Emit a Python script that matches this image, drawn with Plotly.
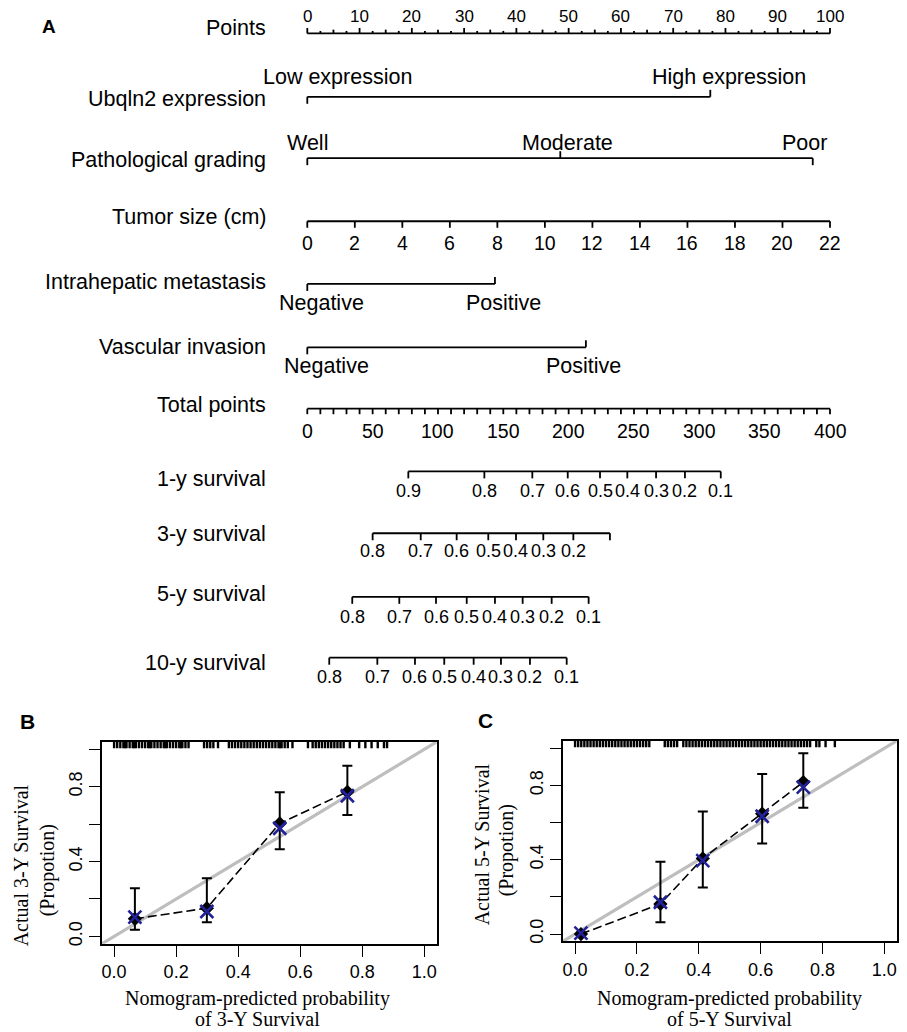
import plotly.graph_objects as go

# ================= Nomogram values =================
points_ticks = [0, 10, 20, 30, 40, 50, 60, 70, 80, 90, 100]
ubqln2_levels = ["Low expression", "High expression"]
ubqln2_pts = [0.0, 77.1]
grade_levels = ["Well", "Moderate", "Poor"]
grade_pts = [0.0, 48.4, 96.7]
tumor_cm = [0, 2, 4, 6, 8, 10, 12, 14, 16, 18, 20, 22]
tumor_cm_at_100pts = 22
im_levels = ["Negative", "Positive"]
im_pts = [0.0, 35.9]
vi_levels = ["Negative", "Positive"]
vi_pts = [0.0, 53.3]
total_ticks = [0, 50, 100, 150, 200, 250, 300, 350, 400]
total_at_100pts = 400
surv1_lab = ["0.9", "0.8", "0.7", "0.6", "0.5", "0.4", "0.3", "0.2", "0.1"]
surv1_tot = [77.3, 135.5, 172.2, 199.3, 224.0, 244.9, 266.9, 289.0, 316.4]
surv3_lab = ["0.8", "0.7", "0.6", "0.5", "0.4", "0.3", "0.2", ""]
surv3_tot = [50.0, 86.8, 114.3, 138.5, 159.7, 180.6, 203.6, 231.6]
surv5_lab = ["0.8", "0.7", "0.6", "0.5", "0.4", "0.3", "0.2", "0.1"]
surv5_tot = [34.4, 70.4, 98.5, 122.0, 143.6, 164.8, 187.0, 215.3]
surv10_lab = ["0.8", "0.7", "0.6", "0.5", "0.4", "0.3", "0.2", "0.1"]
surv10_tot = [16.8, 53.6, 82.4, 104.8, 127.3, 148.2, 170.4, 198.5]

# ================= Calibration values =================
# Panel B (3-year)
b_pred = [0.067, 0.299, 0.534, 0.752]
b_obs = [0.094, 0.151, 0.604, 0.773]
b_corr = [0.103, 0.133, 0.578, 0.752]
b_lo = [0.035, 0.075, 0.466, 0.649]
b_hi = [0.257, 0.311, 0.770, 0.912]
b_rug = [0.00, 0.01, 0.02, 0.03, 0.035, 0.04, 0.05, 0.06, 0.065, 0.07, 0.08, 0.09,
         0.10, 0.11, 0.115, 0.12, 0.13, 0.14, 0.15, 0.16, 0.165, 0.17, 0.18, 0.19,
         0.20, 0.21, 0.215, 0.22, 0.23, 0.24, 0.29, 0.30, 0.31, 0.32, 0.335,
         0.37, 0.38, 0.39, 0.40, 0.41, 0.42, 0.43, 0.44, 0.45, 0.46, 0.47, 0.48,
         0.49, 0.50, 0.51, 0.52, 0.53, 0.535, 0.54, 0.55, 0.56, 0.575,
         0.625, 0.64, 0.65, 0.66, 0.67, 0.68, 0.69, 0.70, 0.71, 0.72, 0.73, 0.74,
         0.76, 0.79, 0.81, 0.83, 0.85, 0.87, 0.88]
# Panel C (5-year)
c_pred = [0.019, 0.276, 0.413, 0.605, 0.738]
c_obs = [0.000, 0.162, 0.407, 0.648, 0.818]
c_corr = [0.005, 0.171, 0.395, 0.634, 0.791]
c_lo = [0.000, 0.064, 0.250, 0.487, 0.680]
c_hi = [0.008, 0.389, 0.660, 0.862, 0.973]
c_rug = [0.00, 0.01, 0.02, 0.03, 0.04, 0.05, 0.06, 0.07, 0.08, 0.09, 0.10, 0.11,
         0.12, 0.13, 0.14, 0.15, 0.16, 0.17, 0.18, 0.19, 0.20, 0.21, 0.22, 0.23,
         0.24, 0.29, 0.30, 0.31, 0.32, 0.33, 0.35, 0.36, 0.37, 0.38, 0.39, 0.40,
         0.41, 0.42, 0.43, 0.44, 0.45, 0.46, 0.47, 0.48, 0.49, 0.50, 0.51, 0.52,
         0.53, 0.54, 0.55, 0.56, 0.57, 0.58, 0.59, 0.60, 0.61, 0.62, 0.63, 0.64,
         0.65, 0.66, 0.67, 0.68, 0.69, 0.70, 0.71, 0.72, 0.73, 0.74, 0.75, 0.76,
         0.78, 0.79, 0.81, 0.84]

# ================= Layout constants =================
W, H = 907, 1032
PX0 = 307.3          # pixel x of 0 points
PX_PER_PT = 5.227    # pixels per point
LABEL_RIGHT = 268    # right edge of row labels (px)
SANS = "Liberation Sans, Arial, Helvetica, sans-serif"
SERIF = "Liberation Serif, Times New Roman, serif"
BLUE = "#22229a"

fig = go.Figure()
ann = []


def lab_x():
    return (LABEL_RIGHT - PX0) / PX_PER_PT


def text(x, y, s, size, xanchor="center", xshift=0, family=SANS, bold=False):
    ann.append(dict(x=x, y=y, xref="x", yref="y", text=("<b>%s</b>" % s) if bold else s,
                    showarrow=False, xanchor=xanchor, yanchor="middle", xshift=xshift,
                    font=dict(family=family, size=size, color="black")))


seg_x, seg_y = [], []


def seg(x0, y0, x1, y1):
    seg_x.extend([x0, x1, None])
    seg_y.extend([y0, y1, None])


ROW_FS = 21.5
LEV_FS = 21.5

# --- Points row ---
y = 33.5
seg(0, y, 100, y)
for i in range(41):
    v = i * 2.5
    ln = 5.5 if v % 10 == 0 else (3.8 if v % 5 == 0 else 2.5)
    seg(v, y, v, y - ln)
for v in points_ticks:
    text(v, 16.5, str(v), 17)
text(lab_x(), 28, "Points", ROW_FS, "right")
text(-49.5, 27, "A", 19, bold=True)

# --- categorical rows ---
def cat_row(levels, pts, y_line, y_lab, dirs, shifts, name, y_name):
    seg(pts[0], y_line, pts[-1], y_line)
    for p, d in zip(pts, dirs):
        seg(p, y_line, p, y_line + 7 * d)
    for lev, p, s in zip(levels, pts, shifts):
        text(p, y_lab, lev, LEV_FS, xshift=s)
    text(lab_x(), y_name, name, ROW_FS, "right")


cat_row(ubqln2_levels, ubqln2_pts, 97, 77, [1, -1], [30, 19], "Ubqln2 expression", 99.5)
cat_row(grade_levels, grade_pts, 158.5, 143, [1, -1, 1], [0, 7, -8], "Pathological grading", 160)

# --- Tumor size ---
y = 221.7
tum_pts = [c * 100.0 / tumor_cm_at_100pts for c in tumor_cm]
seg(tum_pts[0], y, tum_pts[-1], y)
for c, p in zip(tumor_cm, tum_pts):
    seg(p, y, p, y + 6.5)
    text(p, 243, str(c), 19.5)
text(lab_x(), 217.5, "Tumor size (cm)", ROW_FS, "right")

cat_row(im_levels, im_pts, 284.5, 304, [1, -1], [14, 9], "Intrahepatic metastasis", 283)
cat_row(vi_levels, vi_pts, 348, 366.5, [1, -1], [19, -2], "Vascular invasion", 347.5)

# --- Total points ---
y = 409.5
seg(0, y, 100, y)
for i in range(41):
    t = i * 10
    seg(t * 100.0 / total_at_100pts, y, t * 100.0 / total_at_100pts, y + 5.5)
for t in total_ticks:
    text(t * 100.0 / total_at_100pts, 432, str(t), 19.5)
text(lab_x(), 405.5, "Total points", ROW_FS, "right")

# --- Survival rows ---
def surv_row(labs, tots, y_line, y_lab, name, y_name):
    ps = [t * 100.0 / total_at_100pts for t in tots]
    seg(ps[0], y_line, ps[-1], y_line)
    for p, l in zip(ps, labs):
        seg(p, y_line, p, y_line + 7)
        if l:
            text(p, y_lab, l, 18)
    text(lab_x(), y_name, name, ROW_FS, "right")


surv_row(surv1_lab, surv1_tot, 472.3, 491.7, "1-y survival", 480)
surv_row(surv3_lab, surv3_tot, 534.3, 551.7, "3-y survival", 535)
surv_row(surv5_lab, surv5_tot, 598, 618, "5-y survival", 595)
surv_row(surv10_lab, surv10_tot, 659, 678, "10-y survival", 664)

fig.add_trace(go.Scatter(x=seg_x, y=seg_y, mode="lines", xaxis="x", yaxis="y",
                         line=dict(color="black", width=1.8), hoverinfo="skip"))

# ================= Calibration panels =================
def calib(pred, obs, corr, lo, hi, rug, xa, ya):
    fig.add_trace(go.Scatter(x=[-0.04, 1.04], y=[-0.04, 1.04], mode="lines", xaxis=xa, yaxis=ya,
                             line=dict(color="#BEBEBE", width=3.2), hoverinfo="skip"))
    rx, ry = [], []
    for r in rug:
        rx.extend([r, r, None])
        ry.extend([1.04, 1.006, None])
    fig.add_trace(go.Scatter(x=rx, y=ry, mode="lines", xaxis=xa, yaxis=ya,
                             line=dict(color="black", width=2.4), hoverinfo="skip"))
    fig.add_trace(go.Scatter(x=pred, y=obs, mode="lines", xaxis=xa, yaxis=ya,
                             line=dict(color="black", width=1.6, dash="9px,4px"), hoverinfo="skip"))
    fig.add_trace(go.Scatter(
        x=pred, y=obs, mode="markers", xaxis=xa, yaxis=ya,
        marker=dict(symbol="diamond", size=11, color="black"),
        error_y=dict(type="data", symmetric=False,
                     array=[h - o for h, o in zip(hi, obs)],
                     arrayminus=[o - l for o, l in zip(obs, lo)],
                     color="black", thickness=2, width=5)))
    fig.add_trace(go.Scatter(x=pred, y=corr, mode="markers", xaxis=xa, yaxis=ya,
                             marker=dict(symbol="x-thin", size=13, color=BLUE,
                                         line=dict(color=BLUE, width=2.6))))


calib(b_pred, b_obs, b_corr, b_lo, b_hi, b_rug, "x2", "y2")
calib(c_pred, c_obs, c_corr, c_lo, c_hi, c_rug, "x3", "y3")

ax_common = dict(range=[-0.04, 1.04], showgrid=False, zeroline=False, showline=True, mirror=True,
                 linecolor="black", linewidth=1.8, ticks="outside", ticklen=11, tickwidth=1.3,
                 tickcolor="black", tickfont=dict(family=SANS, size=18, color="black"), fixedrange=True)
xt = [0, 0.2, 0.4, 0.6, 0.8, 1.0]
xtt = ["0.0", "0.2", "0.4", "0.6", "0.8", "1.0"]
ytt = ["0.0", "", "0.4", "", "0.8", ""]


def dom(a, b, n):
    return [a / n, b / n]


fig.update_layout(
    width=W, height=H, margin=dict(l=0, r=0, t=0, b=0),
    paper_bgcolor="white", plot_bgcolor="rgba(0,0,0,0)", showlegend=False,
    xaxis=dict(domain=[0, 1], range=[-PX0 / PX_PER_PT, (W - PX0) / PX_PER_PT], visible=False,
               fixedrange=True, anchor="y"),
    yaxis=dict(domain=[0, 1], range=[H, 0], visible=False, fixedrange=True, anchor="x"),
    xaxis2=dict(domain=dom(101.7, 436.7, W), anchor="y2", tickvals=xt, ticktext=xtt, **ax_common),
    yaxis2=dict(domain=[1 - 945.7 / H, 1 - 743.3 / H], anchor="x2", tickvals=xt, ticktext=ytt,
                tickangle=-90, **ax_common),
    xaxis3=dict(domain=dom(562.7, 896.7, W), anchor="y3", tickvals=xt, ticktext=xtt, **ax_common),
    yaxis3=dict(domain=[1 - 943.3 / H, 1 - 742.3 / H], anchor="x3", tickvals=xt, ticktext=ytt,
                tickangle=-90, **ax_common),
)

# calibration text (paper coords)
def ptext(xp, yp, s, size, family=SERIF, angle=0, bold=False):
    ann.append(dict(x=xp / W, y=1 - yp / H, xref="paper", yref="paper",
                    text=("<b>%s</b>" % s) if bold else s, showarrow=False,
                    xanchor="center", yanchor="middle", textangle=angle,
                    font=dict(family=family, size=size, color="black")))


ptext(27, 723, "B", 21, family=SANS, bold=True)
ptext(485, 722, "C", 21, family=SANS, bold=True)
ptext(257, 1000, "Nomogram-predicted probability", 20)
ptext(257, 1021, "of 3-Y Survival", 20)
ptext(729, 1000, "Nomogram-predicted probability", 20)
ptext(729, 1021, "of 5-Y Survival", 20)
ptext(21, 867, "Actual 3-Y Survival", 20, angle=-90)
ptext(47, 872, "(Propotion)", 20, angle=-90)
ptext(482, 846, "Actual 5-Y Survival", 20, angle=-90)
ptext(506, 852, "(Propotion)", 20, angle=-90)

fig.update_layout(annotations=ann)
fig.write_html("out.html", config={"displayModeBar": False},
               post_script="document.body.style.margin='0';document.body.style.padding='0';")
